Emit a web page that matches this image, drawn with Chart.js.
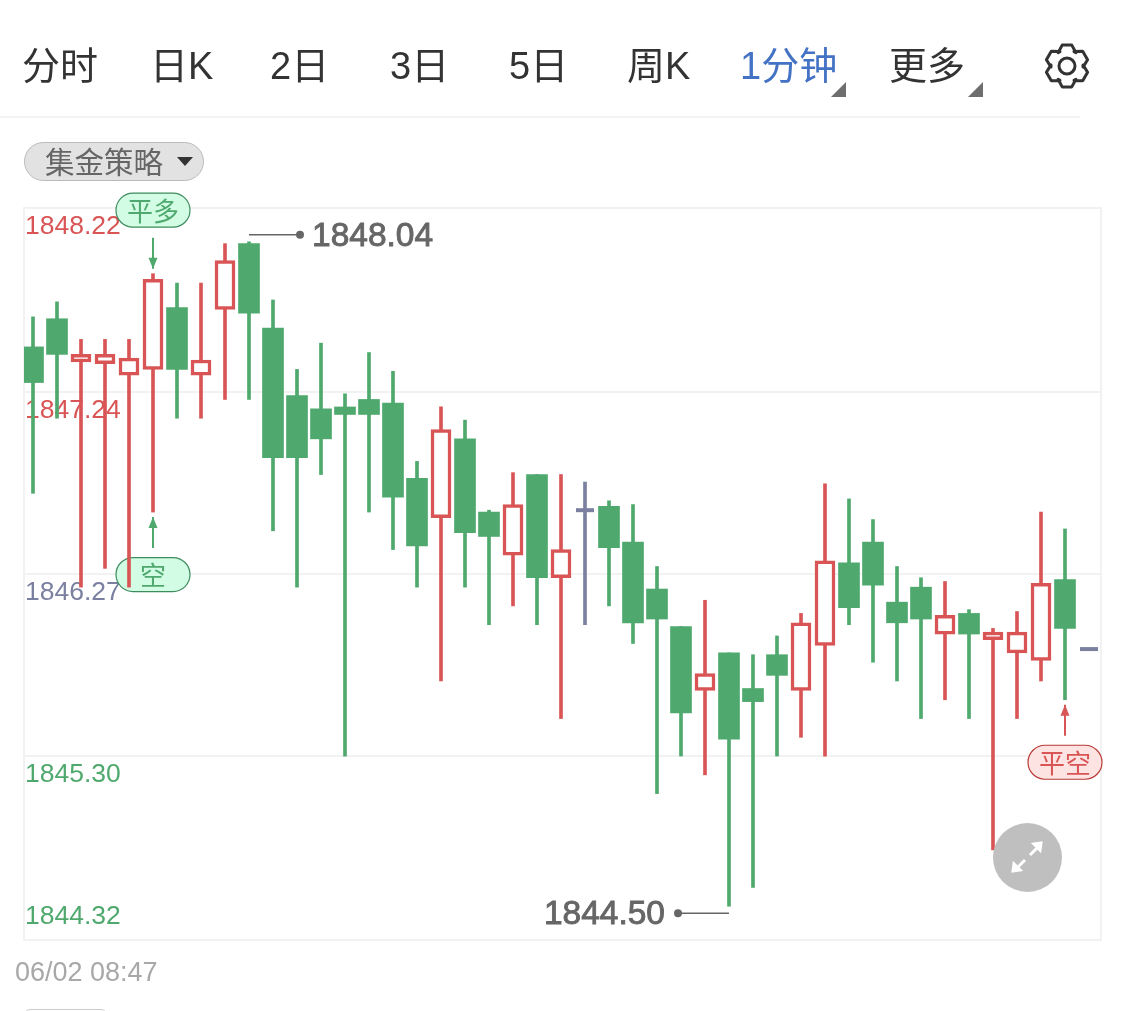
<!DOCTYPE html>
<html>
<head>
<meta charset="utf-8">
<title>1分钟K线</title>
<script src="https://cdn.jsdelivr.net/npm/chart.js@4"></script>
<style>
html,body{margin:0;padding:0;background:#fff;}
#page{position:relative;width:1125px;height:1011px;overflow:hidden;font-family:"Liberation Sans","Noto Sans CJK SC",sans-serif;}
#myChart{position:absolute;left:0;top:0;}
.tab{position:absolute;top:44px;font-size:38px;line-height:44px;color:#333;white-space:nowrap;}
.tab.on{color:#4472c4;}
.corner{position:absolute;width:0;height:0;border-left:15px solid transparent;border-bottom:15px solid #6e6e6e;top:82px;}
#line{position:absolute;left:0;top:116px;width:1080px;height:2px;background:#f3f3f3;}
#gear{position:absolute;left:1043px;top:42px;}
#pill{position:absolute;left:24px;top:142px;width:178px;height:37px;border:1px solid #bbb;border-radius:20px;background:#e2e2e2;}
#pill span{position:absolute;left:20px;top:1px;font-size:29.5px;line-height:38px;color:#666;white-space:nowrap;}
#pill i{position:absolute;left:152px;top:14px;width:0;height:0;border-left:8px solid transparent;border-right:8px solid transparent;border-top:9px solid #333;}
#time{position:absolute;left:15px;top:956px;font-size:27px;line-height:32px;color:#a8a8a8;white-space:nowrap;}
#stub{position:absolute;left:24px;top:1009px;width:83px;height:10px;border:1px solid #ccc;border-radius:6px 6px 0 0;box-sizing:border-box;}
#zoomBtn{position:absolute;left:993px;top:823px;}
</style>
</head>
<body>
<div id="page">
    <canvas id="myChart" width="1125" height="1011"></canvas>
    <div class="tab" style="left:22px">分时</div>
    <div class="tab" style="left:150px">日K</div>
    <div class="tab" style="left:270px">2日</div>
    <div class="tab" style="left:390px">3日</div>
    <div class="tab" style="left:509px">5日</div>
    <div class="tab" style="left:627px">周K</div>
    <div class="tab on" style="left:740px">1分钟</div>
    <div class="corner" style="left:831px"></div>
    <div class="tab" style="left:889px">更多</div>
    <div class="corner" style="left:968px"></div>
    <svg id="gear" width="48" height="48" viewBox="0 0 48 48"></svg>
    <div id="line"></div>
    <div id="pill"><span>集金策略</span><i></i></div>
    <div id="time">06/02 08:47</div>
    <div id="stub"></div>
    <svg id="zoomBtn" width="69" height="69" viewBox="0 0 69 69">
        <circle cx="34.5" cy="34.5" r="34.5" fill="#bfbfbf"/>
        <path d="M37 32 L44 25 M41 21 L48 20 L47 27 Z M32 37 L25 44 M21 41 L20 48 L27 47 Z" stroke="#fff" stroke-width="3" fill="#fff"/>
    </svg>
</div>

<script>
// 1分钟K线 读图数据
const minutes = [0,1,2,3,4,5,6,7,8,9,10,11,12,13,14,15,16,17,18,19,20,21,22,23,24,25,26,27,28,29,30,31,32,33,34,35,36,37,38,39,40,41,42,43,44];
const opens = [1847.48,1847.63,1847.40,1847.39,1847.33,1847.36,1847.69,1847.33,1847.68,1848.03,1847.58,1847.22,1847.15,1847.16,1847.20,1847.18,1846.78,1846.57,1846.99,1846.60,1846.37,1846.80,1846.25,1846.61,1846.63,1846.44,1846.19,1845.99,1845.65,1845.85,1845.66,1845.84,1845.65,1845.89,1846.33,1846.44,1846.12,1846.20,1845.95,1846.06,1845.92,1845.85,1845.81,1846.24,1845.87];
const closes = [1847.29,1847.44,1847.44,1847.44,1847.42,1847.84,1847.36,1847.41,1847.94,1847.66,1846.89,1846.89,1846.99,1847.12,1847.12,1846.68,1846.42,1847.04,1846.49,1846.47,1846.64,1846.25,1846.40,1846.61,1846.41,1846.01,1846.03,1845.53,1845.74,1845.39,1845.59,1845.73,1846.01,1846.34,1846.09,1846.21,1846.01,1846.03,1846.05,1845.95,1845.96,1845.96,1846.22,1845.98,1845.87];
const highs = [1847.64,1847.72,1847.52,1847.52,1847.52,1847.87,1847.82,1847.82,1848.03,1848.04,1847.73,1847.36,1847.50,1847.23,1847.45,1847.35,1846.87,1847.16,1847.09,1846.61,1846.81,1846.80,1846.80,1846.76,1846.66,1846.64,1846.31,1845.99,1846.13,1845.85,1845.84,1845.94,1846.06,1846.75,1846.67,1846.56,1846.31,1846.25,1846.23,1846.08,1845.98,1846.07,1846.60,1846.51,1845.87];
const lows = [1846.70,1847.10,1846.20,1846.30,1846.20,1846.60,1847.10,1847.10,1847.20,1847.20,1846.50,1846.20,1846.80,1845.30,1846.60,1846.40,1846.20,1845.70,1846.20,1846.00,1846.10,1846.00,1845.50,1846.00,1846.10,1845.90,1845.10,1845.30,1845.20,1844.50,1844.60,1845.30,1845.40,1845.30,1846.00,1845.80,1845.70,1845.50,1845.60,1845.50,1844.80,1845.50,1845.70,1845.60,1845.87];
const tickLabels = ['1848.22','1847.24','1846.27','1845.30','1844.32'];

const RED = '#d95555', GREEN = '#4fa96e', GREY = '#7b80a0';
const tickColors = [RED, RED, GREY, GREEN, GREEN];
const FONT = '"Liberation Sans","Noto Sans CJK SC",sans-serif';

function colorOf(i){
    if(closes[i] > opens[i]) return RED;
    if(closes[i] < opens[i]) return GREEN;
    return GREY;
}

const upBars = [], downBars = [], flatMarks = [], wicks = [], wickColors = [];
minutes.forEach((m,i)=>{
    wicks.push({x:m, y:[lows[i], highs[i]]});
    wickColors.push(colorOf(i));
    if(closes[i] > opens[i]) upBars.push({x:m, y:[opens[i], closes[i]]});
    else if(closes[i] < opens[i]) downBars.push({x:m, y:[closes[i], opens[i]]});
    else flatMarks.push({x:m, y:closes[i]});
});

// 画外框 价格标签 信号标记
function roundBadge(ctx, cx, cy, text, fill, stroke, color){
    ctx.beginPath();
    ctx.roundRect(cx-37, cy-17, 74, 34, 17);
    ctx.fillStyle = fill;
    ctx.fill();
    ctx.lineWidth = 1.2;
    ctx.strokeStyle = stroke;
    ctx.stroke();
    ctx.fillStyle = color;
    ctx.font = '26px "Noto Sans CJK SC"';
    ctx.textAlign = 'center';
    ctx.textBaseline = 'middle';
    ctx.fillText(text, cx, cy+1);
}

function signal(chart, i, dir, text, fill, stroke, color){
    const ctx = chart.ctx;
    const x = chart.scales.x.getPixelForValue(minutes[i]);
    const tipY = dir < 0 ? chart.scales.y.getPixelForValue(highs[i]) - 5 : chart.scales.y.getPixelForValue(lows[i]) + 5;
    const tailY = tipY + dir*31;
    ctx.strokeStyle = color;
    ctx.fillStyle = color;
    ctx.lineWidth = 2;
    ctx.beginPath();
    ctx.moveTo(x, tailY);
    ctx.lineTo(x, tipY);
    ctx.stroke();
    ctx.beginPath();
    ctx.moveTo(x, tipY);
    ctx.lineTo(x-4.5, tipY + dir*11);
    ctx.lineTo(x+4.5, tipY + dir*11);
    ctx.closePath();
    ctx.fill();
    roundBadge(ctx, x, tailY + dir*(dir < 0 ? 27.5 : 26.5), text, fill, stroke, color);
}

const decorPlugin = {
    id:'decor',
    beforeDatasetsDraw(chart){
        const ctx = chart.ctx, a = chart.chartArea, y = chart.scales.y;
        ctx.save();
        ctx.strokeStyle = '#f2f2f2';
        ctx.lineWidth = 2;
        ctx.strokeRect(a.left, a.top, a.right-a.left, a.bottom-a.top);
        ctx.font = '26.5px ' + FONT;
        ctx.textAlign = 'left';
        ctx.textBaseline = 'middle';
        tickLabels.forEach((t,i)=>{
            ctx.fillStyle = tickColors[i];
            const last = i === tickLabels.length-1;
            ctx.fillText(t, a.left+1, y.getPixelForValue(Number(t)) + (last ? -23 : 19));
        });
        signal(chart, 5, -1, '平多', '#d2fce3', '#3d8c5e', GREEN);
        signal(chart, 5, 1, '空', '#d2fce3', '#3d8c5e', GREEN);
        signal(chart, 43, 1, '平空', '#fde4e2', '#b93a36', RED);
        ctx.restore();
    },
    afterDatasetsDraw(chart){
        // 最高最低价标注
        const ctx = chart.ctx, xs = chart.scales.x, ys = chart.scales.y;
        const hi = Math.max(...highs), lo = Math.min(...lows);
        const hx = xs.getPixelForValue(minutes[highs.indexOf(hi)]), hy = ys.getPixelForValue(hi)-7;
        const lx = xs.getPixelForValue(minutes[lows.indexOf(lo)]), ly = ys.getPixelForValue(lo)+7;
        ctx.save();
        ctx.strokeStyle = '#666';
        ctx.fillStyle = '#666';
        ctx.lineWidth = 1.5;
        ctx.beginPath();
        ctx.moveTo(hx, hy); ctx.lineTo(hx+51, hy);
        ctx.moveTo(lx, ly); ctx.lineTo(lx-51, ly);
        ctx.stroke();
        ctx.beginPath();
        ctx.arc(hx+51, hy, 4, 0, Math.PI*2);
        ctx.fill();
        ctx.beginPath();
        ctx.arc(lx-51, ly, 4, 0, Math.PI*2);
        ctx.fill();
        // 中等粗细 描一点边
        ctx.font = '33.5px ' + FONT;
        ctx.lineWidth = 0.9;
        ctx.textBaseline = 'middle';
        ctx.textAlign = 'left';
        ctx.fillText(hi.toFixed(2), hx+63, hy+2);
        ctx.strokeText(hi.toFixed(2), hx+63, hy+2);
        ctx.textAlign = 'right';
        ctx.fillText(lo.toFixed(2), lx-64, ly+2);
        ctx.strokeText(lo.toFixed(2), lx-64, ly+2);
        ctx.restore();
    }
};

new Chart(document.getElementById('myChart'), {
    data:{
        datasets:[
            {type:'bar', label:'wick', data:wicks, backgroundColor:wickColors, barThickness:3, grouped:false, order:3},
            {type:'bar', label:'up', data:upBars, backgroundColor:'#fff', borderColor:RED, borderWidth:3.5, borderSkipped:false, barThickness:20, grouped:false, order:2},
            {type:'bar', label:'down', data:downBars, backgroundColor:GREEN, barThickness:21, grouped:false, order:2},
            {type:'line', label:'flat', data:flatMarks, showLine:false, pointStyle:'line', pointRadius:9, pointBorderWidth:4, pointBorderColor:GREY, order:1}
        ]
    },
    options:{
        responsive:false,
        animation:false,
        layout:{padding:{left:24, right:24, top:208, bottom:71}},
        plugins:{legend:{display:false}, tooltip:{enabled:false}},
        scales:{
            x:{type:'linear', min:-0.375, max:44.5, offset:false,
               grid:{display:false, drawTicks:false}, border:{display:false}, ticks:{display:false}},
            y:{type:'linear', min:1844.32, max:1848.22,
               afterBuildTicks(scale){ scale.ticks = tickLabels.map(t=>({value:Number(t)})); },
               grid:{color:'#f2f2f2', lineWidth:2, drawTicks:false}, border:{display:false}, ticks:{display:false}}
        }
    },
    plugins:[decorPlugin]
});

// 设置图标 六角齿轮
const gearPts = [];
for(let k=0;k<6;k++){
    const c = -90 + k*60;
    [[-34,16],[-13,21.5],[13,21.5],[34,16]].forEach(p=>{
        const r = (c+p[0]) * Math.PI/180;
        gearPts.push((24+p[1]*Math.cos(r)).toFixed(1)+','+(24+p[1]*Math.sin(r)).toFixed(1));
    });
}
document.getElementById('gear').innerHTML =
    '<polygon points="'+gearPts.join(' ')+'" fill="none" stroke="#333" stroke-width="3" stroke-linejoin="round"/>'+
    '<circle cx="24" cy="24" r="8" fill="none" stroke="#333" stroke-width="3"/>';
</script>
</body>
</html>
